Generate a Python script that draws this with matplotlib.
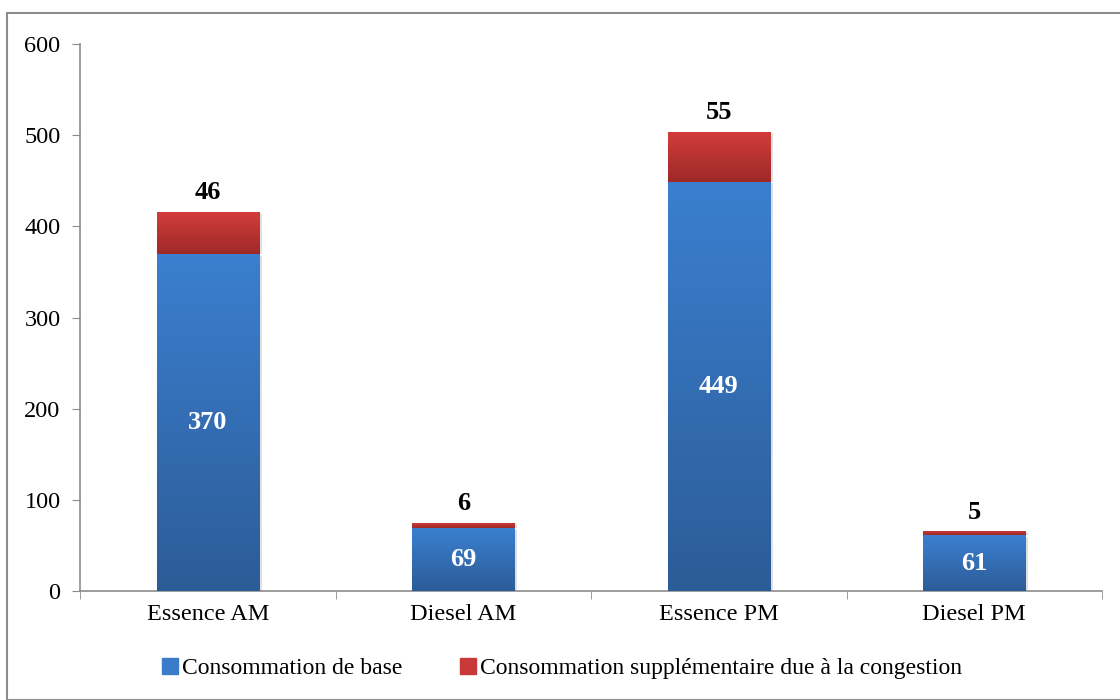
import numpy as np
import matplotlib.pyplot as plt
from matplotlib.colors import LinearSegmentedColormap
from matplotlib.patches import Rectangle
from matplotlib.lines import Line2D

categories = ['Essence AM', 'Diesel AM', 'Essence PM', 'Diesel PM']
base = [370, 69, 449, 61]
extra = [46, 6, 55, 5]
series_names = ['Consommation de base',
                'Consommation supplémentaire due à la congestion']

plt.rcParams['font.family'] = ['Liberation Serif', 'DejaVu Serif']

fig = plt.figure(figsize=(11.2, 7.0), dpi=100)
ax = fig.add_axes([80 / 1120, 1 - 591 / 700, 1022 / 1120, 547 / 700])

blue_cmap = LinearSegmentedColormap.from_list('b', ['#2c5c97', '#3b7fd0'])
red_cmap = LinearSegmentedColormap.from_list('r', ['#9e2927', '#d23d3b'])

x = np.arange(len(categories))
width = 0.4
bars_base = ax.bar(x, base, width, color='#3a7cc9', zorder=2)
bars_extra = ax.bar(x, extra, width, bottom=base, color='#c9393a', zorder=2)

grad = np.linspace(0, 1, 256).reshape(-1, 1)
for bars, cmap in ((bars_base, blue_cmap), (bars_extra, red_cmap)):
    for b in bars:
        x0, y0 = b.get_x(), b.get_y()
        w, h = b.get_width(), b.get_height()
        # soft shadow
        ax.add_patch(Rectangle((x0 + 0.012, y0), w, h - 2, color='#000000',
                               alpha=0.12, zorder=1, lw=0))
        im = ax.imshow(grad, extent=(x0, x0 + w, y0, y0 + h), origin='lower',
                       cmap=cmap, aspect='auto', zorder=3)
        im.set_clip_path(b)

for i in range(len(categories)):
    ax.text(x[i], base[i] / 2, str(base[i]), ha='center', va='center',
            color='white', fontsize=19, fontweight='bold', zorder=4)
    ax.text(x[i], base[i] + extra[i] + 8, str(extra[i]), ha='center',
            va='bottom', color='black', fontsize=19, fontweight='bold', zorder=4)

ax.set_xlim(-0.5, len(categories) - 0.5)
ax.set_ylim(0, 600)
ax.set_yticks(range(0, 601, 100))
ax.set_xticks(x)
ax.set_xticklabels(categories, fontsize=17.5)
ax.set_xticks(np.arange(-0.5, len(categories), 1), minor=True)
ax.tick_params(axis='x', which='major', length=0, pad=9)
ax.tick_params(axis='x', which='minor', length=6, color='#8c8c8c')
ax.tick_params(axis='y', labelsize=17.5, length=6, color='#8c8c8c', pad=8)

for side in ('top', 'right'):
    ax.spines[side].set_visible(False)
for side in ('left', 'bottom'):
    ax.spines[side].set_color('#8c8c8c')
    ax.spines[side].set_linewidth(1.2)

handles = [Line2D([], [], marker='s', ls='', markersize=11, color='#3a7cc9'),
           Line2D([], [], marker='s', ls='', markersize=11, color='#c9393a')]
fig.legend(handles, series_names, loc='center', bbox_to_anchor=(0.5, 1 - 668 / 700),
           ncol=2, frameon=False, fontsize=17, handletextpad=0.0,
           columnspacing=2.3, handlelength=1.0)

fig.add_artist(Rectangle((7 / 1120, 0), 1.2, 1 - 13 / 700, transform=fig.transFigure,
                         fill=False, edgecolor='#8c8c8c', lw=1.5))

fig.savefig('out.png', dpi=100)
